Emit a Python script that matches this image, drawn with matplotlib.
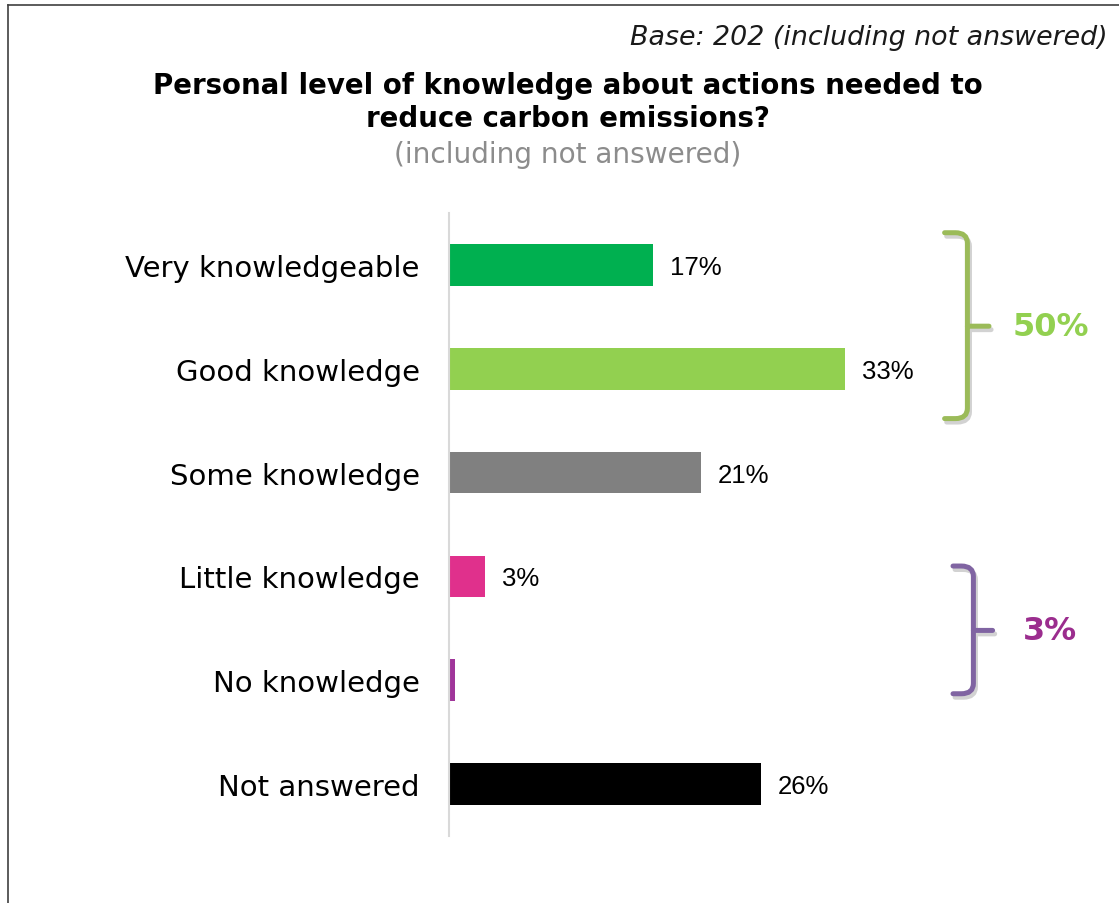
import matplotlib
matplotlib.use("Agg")
import matplotlib.pyplot as plt
from matplotlib.path import Path
from matplotlib.patches import PathPatch
import matplotlib.patheffects as pe

categories = ["Very knowledgeable", "Good knowledge", "Some knowledge",
              "Little knowledge", "No knowledge", "Not answered"]
values = [17, 33, 21, 3, 0.5, 26]
value_labels = ["17%", "33%", "21%", "3%", "", "26%"]
bar_colors = ["#00B050", "#92D050", "#808080", "#E0308C", "#A0359A", "#000000"]

group_labels = ["50%", "3%"]
group_line_colors = ["#9BBB59", "#8064A2"]
group_text_colors = ["#92D050", "#9B2D8E"]

plt.rcParams["font.family"] = ["DejaVu Sans"]

W, H = 1119, 904
fig = plt.figure(figsize=(W / 100, H / 100), dpi=100)
fig.patch.set_facecolor("white")

# outer frame (top and left edges visible)
fig.add_artist(plt.Line2D([8 / W, 8 / W], [0, 1 - 6 / H], transform=fig.transFigure,
                          color="#404040", lw=1.2))
fig.add_artist(plt.Line2D([8 / W, 1], [1 - 6 / H, 1 - 6 / H], transform=fig.transFigure,
                          color="#404040", lw=1.2))

ax = fig.add_axes([449 / W, 67 / H, 480 / W, 623 / H])
ypos = list(range(len(categories)))
ax.barh(ypos, values, height=0.4, color=bar_colors, zorder=2)
ax.set_xlim(0, 40)
ax.set_ylim(len(categories) - 0.5, -0.5)
for s in ["top", "right", "bottom"]:
    ax.spines[s].set_visible(False)
ax.spines["left"].set_color("#D9D9D9")
ax.spines["left"].set_linewidth(1.5)
ax.set_xticks([])
ax.set_yticks(ypos)
ax.set_yticklabels(categories, fontsize=21)
ax.tick_params(axis="y", length=0, pad=21)

for y, v, lab in zip(ypos, values, value_labels):
    if lab:
        ax.text(v + 1.4, y + 0.02, lab, va="center", ha="left", fontsize=18.5,
                family="Liberation Sans")


def bracket(x_hook, x_vert, x_tip, top, mid, bottom, color):
    rx, ry = 1.0, 0.1
    verts = [(x_hook, top), (x_vert - rx, top), (x_vert, top), (x_vert, top + ry),
             (x_vert, mid), (x_tip, mid), (x_vert, mid),
             (x_vert, bottom - ry), (x_vert, bottom), (x_vert - rx, bottom),
             (x_hook, bottom)]
    codes = [Path.MOVETO, Path.LINETO, Path.CURVE3, Path.CURVE3,
             Path.LINETO, Path.LINETO, Path.MOVETO,
             Path.LINETO, Path.CURVE3, Path.CURVE3, Path.LINETO]
    patch = PathPatch(Path(verts, codes), facecolor="none", edgecolor=color,
                      lw=3.6, capstyle="round", joinstyle="round",
                      transform=ax.transData, clip_on=False, zorder=3)
    patch.set_path_effects([pe.SimpleLineShadow(offset=(1.5, -2.5), shadow_color="gray",
                                                alpha=0.35),
                            pe.Normal()])
    ax.add_patch(patch)


# top group: Very knowledgeable + Good knowledge
bracket(41.3, 43.2, 45.0, -0.31, 0.59, 1.48, group_line_colors[0])
ax.text(47.0, 0.59, group_labels[0], ha="left", va="center", fontsize=23,
        fontweight="bold", color=group_text_colors[0], clip_on=False)
# bottom group: Little knowledge + No knowledge
bracket(42.0, 43.7, 45.3, 2.90, 3.52, 4.13, group_line_colors[1])
ax.text(47.8, 3.52, group_labels[1], ha="left", va="center", fontsize=23,
        fontweight="bold", color=group_text_colors[1], clip_on=False)

fig.text(1108 / W, 1 - 38 / H, "Base: 202 (including not answered)", ha="right",
         va="center", fontsize=19.4, style="italic", color="#1a1a1a")
fig.text(568 / W, 1 - 86 / H, "Personal level of knowledge about actions needed to",
         ha="center", va="center", fontsize=19.9, fontweight="bold")
fig.text(568 / W, 1 - 119 / H, "reduce carbon emissions?",
         ha="center", va="center", fontsize=19.9, fontweight="bold")
fig.text(568 / W, 1 - 155 / H, "(including not answered)",
         ha="center", va="center", fontsize=20.2, color="#8C8C8C")

fig.savefig("out.png", dpi=100, facecolor="white")
